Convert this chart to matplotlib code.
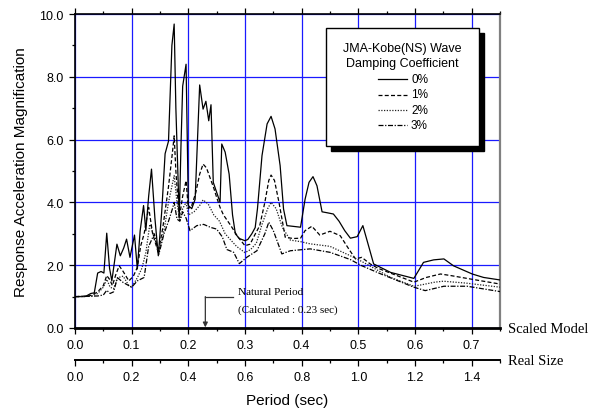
import matplotlib
matplotlib.use("Agg")
import matplotlib.pyplot as plt
from matplotlib.ticker import MultipleLocator, FormatStrFormatter, FixedLocator
from matplotlib.patches import Rectangle
from matplotlib.lines import Line2D

# ---- response spectra (scaled-model period in sec, magnification) ----
period_0 = [0.0, 0.01, 0.02, 0.028, 0.034, 0.040, 0.046, 0.051, 0.056, 0.061, 0.065,
            0.074, 0.080, 0.086, 0.091, 0.097, 0.105, 0.110, 0.115, 0.121, 0.125, 0.130,
            0.135, 0.141, 0.147, 0.153, 0.159, 0.165, 0.171, 0.175, 0.178, 0.184, 0.187,
            0.190, 0.196, 0.200, 0.206, 0.212, 0.220, 0.226, 0.231, 0.236, 0.240, 0.244,
            0.256, 0.259, 0.265, 0.272, 0.278, 0.283, 0.290, 0.300, 0.305, 0.312, 0.318,
            0.322, 0.330, 0.339, 0.346, 0.353, 0.362, 0.368, 0.374, 0.398, 0.406, 0.413,
            0.420, 0.427, 0.436, 0.445, 0.456, 0.466, 0.476, 0.486, 0.498, 0.508,
            0.518, 0.527, 0.557, 0.598, 0.615, 0.633, 0.651, 0.668, 0.701, 0.721, 0.750]
resp_0 = [1.0, 1.0, 1.02, 1.1, 1.12, 1.75, 1.8, 1.75, 3.02, 1.9, 1.5,
          2.67, 2.3, 2.55, 2.83, 2.25, 2.96, 1.88, 3.1, 3.9, 3.1, 4.2,
          5.06, 3.5, 2.3, 3.7, 5.55, 5.95, 9.0, 9.68, 7.0, 3.5, 5.8,
          7.7, 8.4, 3.9, 3.8, 4.1, 7.74, 6.97, 7.22, 6.6, 7.11, 4.64,
          4.0, 5.86, 5.6, 4.9, 3.6, 3.0, 2.85, 2.78, 2.82, 3.0, 3.2,
          3.8, 5.49, 6.5, 6.74, 6.34, 5.17, 3.79, 3.26, 3.21, 4.1, 4.64,
          4.82, 4.53, 3.7, 3.67, 3.63, 3.4, 3.1, 2.86, 2.91, 3.26,
          2.62, 2.04, 1.77, 1.58, 2.09, 2.17, 2.2, 1.98, 1.72, 1.61, 1.53]

period_1 = [0.0, 0.02, 0.03, 0.04, 0.05, 0.056, 0.061, 0.066, 0.072, 0.078, 0.085,
            0.095, 0.103, 0.110, 0.116, 0.122, 0.130, 0.137, 0.147, 0.155, 0.165, 0.172,
            0.175, 0.178, 0.184, 0.190, 0.196, 0.200, 0.206, 0.213, 0.220, 0.226, 0.232,
            0.238, 0.245, 0.250, 0.256, 0.262, 0.275, 0.288, 0.300, 0.309, 0.318, 0.326,
            0.335, 0.342, 0.346, 0.352, 0.360, 0.371, 0.385, 0.398, 0.406, 0.418, 0.432,
            0.450, 0.468, 0.483, 0.495, 0.506, 0.521, 0.535, 0.598, 0.620, 0.645, 0.663,
            0.698, 0.750]
resp_1 = [1.0, 1.0, 1.05, 1.15, 1.35, 1.67, 1.55, 1.35, 1.7, 1.98, 1.8,
          1.5, 1.65, 1.93, 2.62, 3.0, 3.84, 3.0, 2.4, 3.2, 4.5, 5.6,
          6.12, 5.0, 3.5, 4.2, 4.69, 3.8, 3.9, 4.3, 4.9, 5.22, 5.1,
          4.8, 4.45, 4.16, 3.84, 3.6, 3.26, 2.89, 2.62, 2.67, 2.99, 3.26,
          4.0, 4.7, 4.87, 4.7, 4.0, 2.89, 2.85, 2.86, 3.1, 3.24, 2.96,
          3.08, 2.94, 2.52, 2.2, 2.25, 2.04, 1.9, 1.46, 1.61, 1.72, 1.67,
          1.56, 1.4]

period_2 = [0.0, 0.03, 0.04, 0.05, 0.056, 0.062, 0.068, 0.075, 0.085, 0.095, 0.100,
            0.110, 0.118, 0.125, 0.132, 0.140, 0.148, 0.158, 0.165, 0.172, 0.175, 0.180,
            0.185, 0.190, 0.196, 0.200, 0.210, 0.220, 0.226, 0.235, 0.245, 0.255, 0.265,
            0.275, 0.285, 0.300, 0.310, 0.320, 0.330, 0.340, 0.346, 0.355, 0.366, 0.380,
            0.398, 0.415, 0.450, 0.486, 0.506, 0.557, 0.598, 0.613, 0.635, 0.650, 0.690,
            0.750]
resp_2 = [1.0, 1.02, 1.1, 1.3, 1.55, 1.3, 1.25, 1.6, 1.65, 1.35, 1.3,
          1.6, 1.9, 2.4, 3.3, 2.9, 2.4, 3.2, 4.0, 4.6, 4.85, 4.0,
          3.4, 3.8, 4.0, 3.6, 3.7, 3.9, 4.08, 3.95, 3.6, 3.4, 3.0,
          2.8, 2.6, 2.4, 2.5, 2.7, 3.3, 3.8, 4.0, 3.8, 3.2, 2.8,
          2.75, 2.68, 2.6, 2.3, 2.12, 1.61, 1.33, 1.38, 1.46, 1.49, 1.43,
          1.3]

period_3 = [0.0, 0.04, 0.05, 0.056, 0.062, 0.068, 0.075, 0.085, 0.100, 0.110, 0.122,
            0.130, 0.140, 0.148, 0.157, 0.165, 0.172, 0.175, 0.180, 0.185, 0.190, 0.196,
            0.203, 0.215, 0.227, 0.240, 0.250, 0.260, 0.268, 0.280, 0.290, 0.303, 0.321,
            0.335, 0.342, 0.350, 0.365, 0.380, 0.415, 0.450, 0.486, 0.504, 0.540, 0.598,
            0.618, 0.651, 0.692, 0.750]
resp_3 = [1.0, 1.02, 1.05, 1.2, 1.1, 1.15, 1.6, 1.45, 1.3, 1.5, 1.61,
          2.6, 3.0, 2.35, 3.0, 3.4, 3.8, 4.0, 3.47, 3.4, 3.7, 3.5,
          3.1, 3.26, 3.3, 3.2, 3.15, 2.9, 2.5, 2.41, 2.05, 2.25, 2.46,
          3.0, 3.37, 3.1, 2.36, 2.46, 2.52, 2.41, 2.18, 2.0, 1.72, 1.3,
          1.19, 1.33, 1.33, 1.16]

damping_labels = ["0%", "1%", "2%", "3%"]
natural_period = 0.23            # calculated natural period of the model (sec)
real_scale = 2.0                 # real-size period / scaled-model period
scaled_ticks = [0.0, 0.1, 0.2, 0.3, 0.4, 0.5, 0.6, 0.7]
real_ticks = [0.0, 0.2, 0.4, 0.6, 0.8, 1.0, 1.2, 1.4]
y_ticks = [0.0, 2.0, 4.0, 6.0, 8.0, 10.0]

SANS = "Liberation Sans"
SERIF = "Liberation Serif"

W, H = 590, 414
fig = plt.figure(figsize=(W / 100, H / 100), dpi=100)


def fx(px):
    return px / W


def fy(py):
    return 1 - py / H


ax = fig.add_axes([fx(75), fy(329), fx(500) - fx(75), fy(15) - fy(329)])

line_styles = [
    dict(ls="-", lw=0.9, color="black"),
    dict(ls=(0, (3.2, 1.8)), lw=0.9, color="black"),
    dict(ls=(0, (1.0, 1.2)), lw=0.9, color="#222222"),
    dict(ls=(0, (4.0, 1.3, 1.0, 1.3)), lw=0.9, color="black"),
]
series = [(period_0, resp_0), (period_1, resp_1), (period_2, resp_2), (period_3, resp_3)]
for (px_, py_), st in zip(series, line_styles):
    ax.plot(px_, py_, zorder=3, **st)

ax.set_xlim(0, 0.75)
ax.set_ylim(0, 10)
ax.xaxis.set_major_locator(FixedLocator(scaled_ticks))
ax.xaxis.set_minor_locator(MultipleLocator(0.05))
ax.yaxis.set_major_locator(FixedLocator(y_ticks))
ax.yaxis.set_minor_locator(MultipleLocator(1.0))
ax.xaxis.set_major_formatter(FormatStrFormatter("%.1f"))
ax.yaxis.set_major_formatter(FormatStrFormatter("%.1f"))

ax.set_axisbelow(True)
ax.grid(True, which="major", color="#1a1aff", lw=0.9)
ax.yaxis.set_ticks_position("left")
ax.xaxis.set_ticks_position("both")
ax.tick_params(which="both", direction="out", top=True, right=False,
               labelright=False, labeltop=False,
               labelsize=9, width=0.9, colors="black")
ax.tick_params(which="major", length=4, pad=4)
ax.tick_params(which="minor", length=2)
for lab in ax.get_xticklabels() + ax.get_yticklabels():
    lab.set_fontfamily(SANS)

ax.spines["left"].set_linewidth(1.2)
ax.spines["top"].set_linewidth(1.2)
ax.spines["bottom"].set_linewidth(2.0)
ax.spines["right"].set_color("#808080")
ax.spines["right"].set_linewidth(1.6)

ax.set_ylabel("Response Acceleration Magnification", fontsize=11,
              fontfamily=SANS, labelpad=8)

# real-size period axis under the scaled-model axis
sec = ax.secondary_xaxis(-(361 - 329) / 314,
                         functions=(lambda x: x * real_scale, lambda x: x / real_scale))
sec.xaxis.set_major_locator(FixedLocator(real_ticks))
sec.xaxis.set_minor_locator(MultipleLocator(0.1))
sec.xaxis.set_major_formatter(FormatStrFormatter("%.1f"))
sec.tick_params(which="both", direction="out", labelsize=9, width=0.9)
sec.tick_params(which="major", length=4, pad=4)
sec.tick_params(which="minor", length=2)
sec.spines["bottom"].set_linewidth(1.4)
for lab in sec.get_xticklabels():
    lab.set_fontfamily(SANS)

fig.text(0.5 * (fx(75) + fx(500)), fy(401), "Period (sec)", ha="center", va="center",
         fontsize=11, fontfamily=SANS)
fig.text(fx(508), fy(330), "Scaled Model", ha="left", va="center",
         fontsize=10.5, fontfamily=SERIF)
fig.text(fx(508), fy(362), "Real Size", ha="left", va="center",
         fontsize=10.5, fontfamily=SERIF)

# natural period marker
elbow_y = 1.0
text_x = natural_period + 0.05
ax.plot([natural_period, text_x - 0.002], [elbow_y, elbow_y], color="#333333", lw=0.9,
        zorder=4)
ax.annotate("", xy=(natural_period, 0.02), xytext=(natural_period, elbow_y),
            arrowprops=dict(arrowstyle="-|>", color="#333333", lw=0.9,
                            mutation_scale=7, shrinkA=0, shrinkB=0), zorder=4)
ax.text(text_x + 0.007, 1.15, "Natural Period", fontsize=8, fontfamily=SERIF,
        ha="left", va="center", zorder=4)
ax.text(text_x + 0.007, 0.6, "(Calculated : %.2f sec)" % natural_period, fontsize=8,
        fontfamily=SERIF, ha="left", va="center", zorder=4)

# boxed legend with a drop shadow
bx0, by0, bx1, by1 = 326, 29, 479, 147
shadow_off = 5
fig.patches.append(Rectangle((fx(bx0 + shadow_off), fy(by1 + shadow_off)),
                             fx(bx1) - fx(bx0), fy(by0) - fy(by1),
                             transform=fig.transFigure, facecolor="black",
                             edgecolor="black", zorder=5))
fig.patches.append(Rectangle((fx(bx0), fy(by1)), fx(bx1) - fx(bx0), fy(by0) - fy(by1),
                             transform=fig.transFigure, facecolor="white",
                             edgecolor="black", lw=1.0, zorder=6))
fig.text(fx(402), fy(49), "JMA-Kobe(NS) Wave", ha="center", va="center",
         fontsize=9, fontfamily=SANS, zorder=7)
fig.text(fx(402), fy(64), "Damping Coefficient", ha="center", va="center",
         fontsize=9, fontfamily=SANS, zorder=7)
entry_y = [80, 95.5, 110.5, 126]
for lbl, st, ey in zip(damping_labels, line_styles, entry_y):
    fig.lines.append(Line2D([fx(378), fx(407)], [fy(ey), fy(ey)],
                            transform=fig.transFigure, zorder=7, **st))
    fig.text(fx(411), fy(ey), lbl, ha="left", va="center", fontsize=8.5,
             fontfamily=SANS, zorder=7)

fig.savefig("out.png", dpi=100)
